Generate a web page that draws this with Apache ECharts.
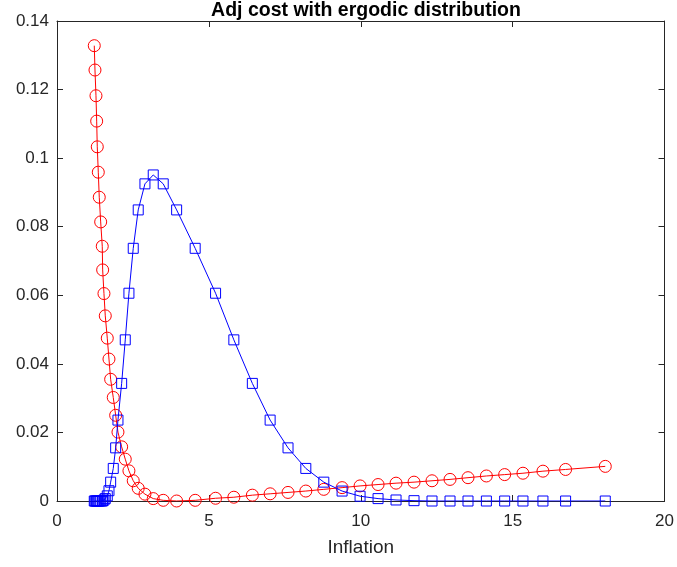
<!DOCTYPE html>
<html>
<head>
<meta charset="utf-8">
<script src="https://cdn.jsdelivr.net/npm/echarts@6/dist/echarts.min.js"></script>
<style>
  html, body { margin: 0; padding: 0; background: #fff; }
  #chart { width: 677px; height: 567px; }
</style>
</head>
<body>
<div id="chart"></div>
<script>
// Inflation grid shared by both series
const inflation = [
  1.227, 1.250, 1.283, 1.306, 1.326, 1.359, 1.391, 1.438, 1.490, 1.503,
  1.546, 1.589, 1.655, 1.711, 1.766, 1.852, 1.931, 2.007, 2.128, 2.247,
  2.368, 2.510, 2.674, 2.895, 3.168, 3.497, 3.938, 4.549, 5.220, 5.822,
  6.431, 7.016, 7.605, 8.191, 8.783, 9.385, 9.977, 10.569, 11.161, 11.753,
  12.345, 12.938, 13.530, 14.135, 14.737, 15.339, 15.997, 16.743, 18.049
];

// Adjustment cost (red circles)
const adjCost = [
  0.1328, 0.1257, 0.1182, 0.1108, 0.1033, 0.0959, 0.0886, 0.0814, 0.0743, 0.0674,
  0.0605, 0.0540, 0.0475, 0.0414, 0.0355, 0.0302, 0.0250, 0.0201, 0.0158, 0.0122,
  0.0088, 0.0059, 0.0037, 0.0020, 0.0007, 0.0002, 0.0000, 0.0002, 0.0008, 0.0011,
  0.0017, 0.0021, 0.0025, 0.0029, 0.0034, 0.0039, 0.0044, 0.0048, 0.0052, 0.0055,
  0.0059, 0.0063, 0.0068, 0.0073, 0.0077, 0.0081, 0.0087, 0.0092, 0.0101
];

// Ergodic distribution (blue squares)
const ergodic = [
  0, 0, 0, 0, 0, 0, 0, 0, 0, 0.0001,
  0.0003, 0.0007, 0.0015, 0.0030, 0.0055, 0.0095, 0.0155, 0.0236, 0.0343, 0.0470,
  0.0606, 0.0737, 0.0849, 0.0925, 0.0951, 0.0925, 0.0849, 0.0737, 0.0606, 0.0470,
  0.0343, 0.0236, 0.0155, 0.0095, 0.0055, 0.0029, 0.0014, 0.0007, 0.0003, 0.0001,
  0, 0, 0, 0, 0, 0, 0, 0, 0
];

const xTicks = [0, 5, 10, 15, 20];
const yTicks = [0, 0.02, 0.04, 0.06, 0.08, 0.1, 0.12, 0.14];

const titleText = 'Adj cost with ergodic distribution';
const xName = 'Inflation';

const pairs = (xs, ys) => xs.map((x, i) => [x, ys[i]]);

const FONT = 'Liberation Sans, Arial, Helvetica, sans-serif';
const AXIS_COLOR = '#262626';

const chart = echarts.init(document.getElementById('chart'), null, { renderer: 'canvas' });

// Shared axis look: box frame with inward ticks on all four sides
const baseX = {
  type: 'value',
  min: xTicks[0],
  max: xTicks[xTicks.length - 1],
  interval: xTicks[1] - xTicks[0],
  splitLine: { show: false },
  axisLine: { show: true, onZero: false, lineStyle: { color: AXIS_COLOR, width: 1 } },
  axisTick: { show: true, inside: true, length: 6, lineStyle: { color: AXIS_COLOR, width: 1 } }
};
const baseY = {
  type: 'value',
  min: yTicks[0],
  max: yTicks[yTicks.length - 1],
  interval: yTicks[1] - yTicks[0],
  splitLine: { show: false },
  axisLine: { show: true, onZero: false, lineStyle: { color: AXIS_COLOR, width: 1 } },
  axisTick: { show: true, inside: true, length: 6, lineStyle: { color: AXIS_COLOR, width: 1 } }
};

chart.setOption({
  animation: false,
  backgroundColor: '#ffffff',
  title: {
    text: titleText,
    left: 361,
    textAlign: 'center',
    top: -4,
    textStyle: { fontFamily: FONT, fontSize: 19.5, fontWeight: 'bold', color: '#000' }
  },
  grid: { left: 57, right: 12, top: 21, bottom: 66, containLabel: false },
  xAxis: [
    Object.assign({}, baseX, {
      position: 'bottom',
      name: xName,
      nameLocation: 'middle',
      nameGap: 37,
      nameTextStyle: { fontFamily: FONT, fontSize: 19, color: '#262626' },
      axisLabel: {
        fontFamily: FONT, fontSize: 17, color: '#262626', margin: 12,
        formatter: v => String(v)
      }
    }),
    Object.assign({}, baseX, {
      position: 'top',
      axisLabel: { show: false }
    })
  ],
  yAxis: [
    Object.assign({}, baseY, {
      position: 'left',
      axisLabel: {
        fontFamily: FONT, fontSize: 17, color: '#262626', margin: 8,
        formatter: v => (v === 0 ? '0' : String(+v.toFixed(2)))
      }
    }),
    Object.assign({}, baseY, {
      position: 'right',
      axisLabel: { show: false }
    })
  ],
  series: [
    {
      name: 'Adj cost',
      type: 'line',
      xAxisIndex: 0,
      yAxisIndex: 0,
      data: pairs(inflation, adjCost),
      symbol: 'circle',
      symbolSize: 12,
      showAllSymbol: true,
      lineStyle: { color: '#ff0000', width: 1 },
      itemStyle: { color: 'rgba(0,0,0,0)', borderColor: '#ff0000', borderWidth: 1 },
      z: 3
    },
    {
      name: 'Ergodic distribution',
      type: 'line',
      xAxisIndex: 0,
      yAxisIndex: 0,
      data: pairs(inflation, ergodic),
      symbol: 'rect',
      symbolSize: 10,
      showAllSymbol: true,
      lineStyle: { color: '#0000ff', width: 1 },
      itemStyle: { color: 'rgba(0,0,0,0)', borderColor: '#0000ff', borderWidth: 1 },
      z: 4
    }
  ]
});
</script>
</body>
</html>
